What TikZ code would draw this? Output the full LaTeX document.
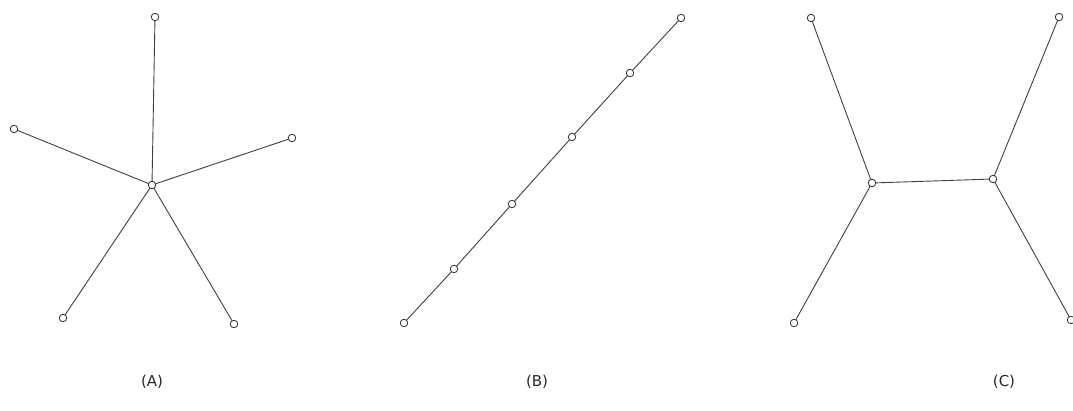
\documentclass[tikz,border=0pt]{standalone}
\usepackage{fontspec}
\setmainfont{DejaVu Sans}
\begin{document}
\begin{tikzpicture}[x=1pt,y=-1pt,
  vtx/.style={circle,draw=black!80,fill=white,line width=0.8pt,inner sep=0pt,minimum size=7.5pt},
  edge/.style={draw=black!75,line width=0.9pt},
  lab/.style={font=\fontsize{15}{18}\selectfont,text=black!85}]
\useasboundingbox (0,0) rectangle (1073,411);
% (A)
\coordinate (ac) at (152,185);
\path (155,17) coordinate (a1) (14,129) coordinate (a2) (292,138) coordinate (a3)
      (63,318) coordinate (a4) (234,324) coordinate (a5);
\foreach \i in {1,...,5} \draw[edge] (ac) -- (a\i);
\foreach \i in {1,...,5} \node[vtx] (na\i) at (a\i) {};
\node[vtx] (nac) at (ac) {};
% (B)
\path (404,323) coordinate (b1) (454,269) coordinate (b2) (512,204) coordinate (b3)
      (572,137) coordinate (b4) (630,73) coordinate (b5) (681,18) coordinate (b6);
\draw[edge] (b1) -- (b2) -- (b3) -- (b4) -- (b5) -- (b6);
\foreach \i in {1,...,6} \node[vtx] (nb\i) at (b\i) {};
% (C)
\path (811,18) coordinate (c1) (1059,17) coordinate (c2) (872,183) coordinate (cl)
      (993,179) coordinate (cr) (794,323) coordinate (c3) (1071,320) coordinate (c4);
\draw[edge] (c1) -- (cl) -- (c3);
\draw[edge] (cl) -- (cr);
\draw[edge] (c2) -- (cr) -- (c4);
\foreach \n in {c1,c2,cl,cr,c3,c4} \node[vtx] (n\n) at (\n) {};
% labels
\node[lab] (la) at (152,382) {(A)};
\node[lab] (lb) at (537,382) {(B)};
\node[lab] (lc) at (1004,382) {(C)};
\end{tikzpicture}
\end{document}
